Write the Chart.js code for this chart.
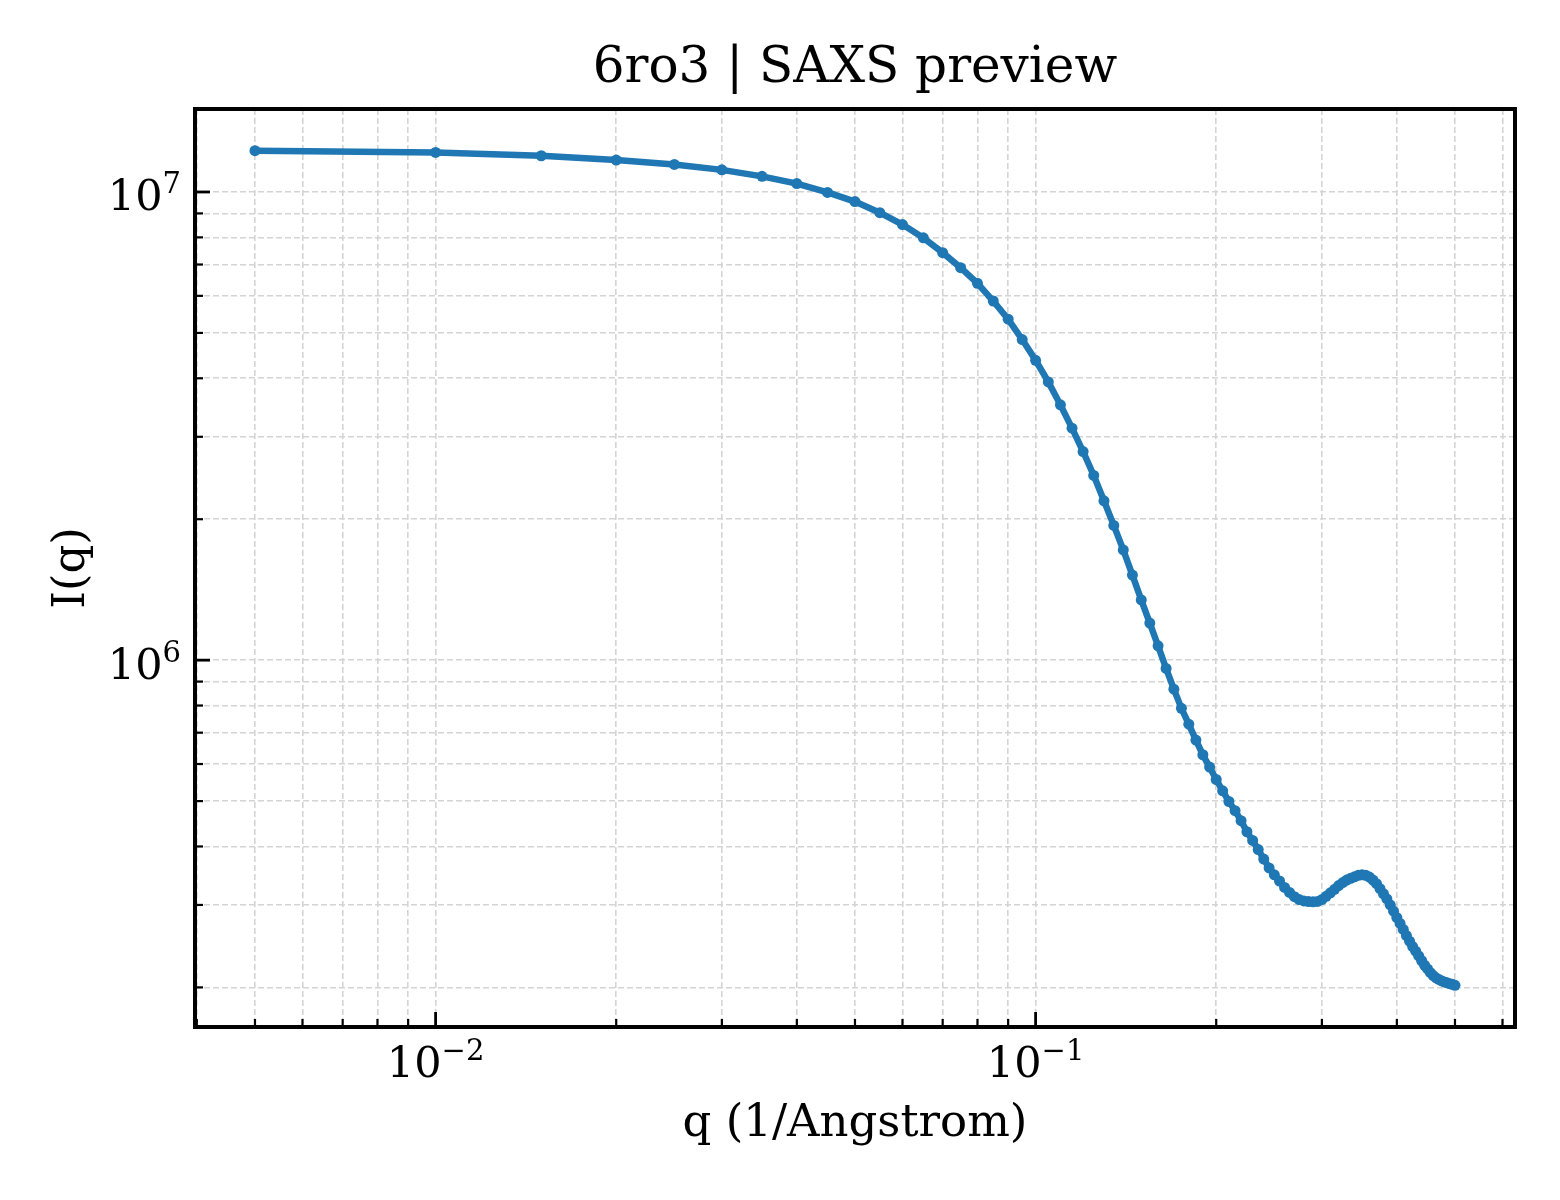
<!DOCTYPE html>
<html>
<head>
<meta charset="utf-8">
<title>6ro3 SAXS preview</title>
<script src="https://cdn.jsdelivr.net/npm/chart.js@4.4.1/dist/chart.umd.min.js"></script>
<style>
  html, body { margin: 0; padding: 0; background: #ffffff; }
</style>
</head>
<body>
<canvas id="saxs" width="1560" height="1200"></canvas>
<script>
// scattering vector q (1/Angstrom)
const qValues = [
  0.005, 0.010, 0.015, 0.020, 0.025, 0.030, 0.035, 0.040, 0.045, 0.050,
  0.055, 0.060, 0.065, 0.070, 0.075, 0.080, 0.085, 0.090, 0.095, 0.100,
  0.105, 0.110, 0.115, 0.120, 0.125, 0.130, 0.135, 0.140, 0.145, 0.150,
  0.155, 0.160, 0.165, 0.170, 0.175, 0.180, 0.185, 0.190, 0.195, 0.200,
  0.205, 0.210, 0.215, 0.220, 0.225, 0.230, 0.235, 0.240, 0.245, 0.250,
  0.255, 0.260, 0.265, 0.270, 0.275, 0.280, 0.285, 0.290, 0.295, 0.300,
  0.305, 0.310, 0.315, 0.320, 0.325, 0.330, 0.335, 0.340, 0.345, 0.350,
  0.355, 0.360, 0.365, 0.370, 0.375, 0.380, 0.385, 0.390, 0.395, 0.400,
  0.405, 0.410, 0.415, 0.420, 0.425, 0.430, 0.435, 0.440, 0.445, 0.450,
  0.455, 0.460, 0.465, 0.470, 0.475, 0.480, 0.485, 0.490, 0.495, 0.500
];

// intensity I(q)
const intensity = [
  1.225e7, 1.215e7, 1.195e7, 1.170e7, 1.145e7, 1.115e7, 1.080e7, 1.042e7, 9.98e6, 9.54e6,
  9.03e6, 8.52e6, 7.98e6, 7.42e6, 6.89e6, 6.38e6, 5.85e6, 5.35e6, 4.84e6, 4.37e6,
  3.93e6, 3.51e6, 3.13e6, 2.79e6, 2.48e6, 2.19e6, 1.94e6, 1.72e6, 1.52e6, 1.345e6,
  1.20e6, 1.073e6, 9.60e5, 8.67e5, 7.89e5, 7.30e5, 6.75e5, 6.28e5, 5.91e5, 5.56e5,
  5.26e5, 4.99e5, 4.77e5, 4.54e5, 4.30e5, 4.12e5, 3.94e5, 3.76e5, 3.60e5, 3.48e5,
  3.375e5, 3.27e5, 3.19e5, 3.125e5, 3.08e5, 3.06e5, 3.05e5, 3.047e5, 3.053e5, 3.08e5,
  3.13e5, 3.185e5, 3.24e5, 3.30e5, 3.35e5, 3.39e5, 3.42e5, 3.445e5, 3.47e5, 3.48e5,
  3.47e5, 3.44e5, 3.39e5, 3.33e5, 3.25e5, 3.17e5, 3.09e5, 3.00e5, 2.91e5, 2.82e5,
  2.74e5, 2.66e5, 2.58e5, 2.51e5, 2.445e5, 2.39e5, 2.335e5, 2.28e5, 2.23e5, 2.19e5,
  2.15e5, 2.12e5, 2.095e5, 2.08e5, 2.065e5, 2.055e5, 2.045e5, 2.037e5, 2.03e5, 2.02e5
];

// tick positions (major ones are the powers of ten)
const xTicks = [
  0.004, 0.005, 0.006, 0.007, 0.008, 0.009,
  0.01, 0.02, 0.03, 0.04, 0.05, 0.06, 0.07, 0.08, 0.09,
  0.1, 0.2, 0.3, 0.4, 0.5, 0.6
];
const yTicks = [
  2e5, 3e5, 4e5, 5e5, 6e5, 7e5, 8e5, 9e5,
  1e6, 2e6, 3e6, 4e6, 5e6, 6e6, 7e6, 8e6, 9e6,
  1e7
];

const xLimits = [0.003972, 0.6295];
const yLimits = [1.646e5, 1.504e7];

const SERIF = "'DejaVu Serif', 'Liberation Serif', serif";
const BLUE = '#1f77b4';

function isPower(v) {
  const e = Math.log10(v);
  return Math.abs(e - Math.round(e)) < 1e-9;
}

function exponentText(v) {
  return String(Math.round(Math.log10(v))).replace('-', '\u2212');
}

// draws "10" with a raised exponent, like matplotlib's mathtext labels
function drawPowerLabel(ctx, v, x, baseline, align) {
  const base = '10';
  const exp = exponentText(v);
  ctx.font = '43px ' + SERIF;
  const wBase = ctx.measureText(base).width;
  ctx.font = '29px ' + SERIF;
  const wExp = ctx.measureText(exp).width;
  const total = wBase + wExp;
  const start = align === 'center' ? x - total / 2 : x - total;
  ctx.textAlign = 'left';
  ctx.textBaseline = 'alphabetic';
  ctx.font = '43px ' + SERIF;
  ctx.fillText(base, start, baseline);
  ctx.font = '29px ' + SERIF;
  ctx.fillText(exp, start + wBase, baseline - 17);
}

// matplotlib style: ticks pointing inward, full frame, power-of-ten labels
const frameAndTicks = {
  id: 'frameAndTicks',
  afterDatasetsDraw(chart) {
    const {ctx, chartArea: a, scales: {x, y}} = chart;
    ctx.save();
    ctx.strokeStyle = '#000';
    ctx.fillStyle = '#000';
    xTicks.forEach(v => {
      const px = x.getPixelForValue(v);
      const major = isPower(v);
      ctx.lineWidth = major ? 2.8 : 2.2;
      ctx.beginPath();
      ctx.moveTo(px, a.bottom);
      ctx.lineTo(px, a.bottom - (major ? 15 : 8));
      ctx.stroke();
      if (major) drawPowerLabel(ctx, v, px, a.bottom + 50, 'center');
    });
    yTicks.forEach(v => {
      const py = y.getPixelForValue(v);
      const major = isPower(v);
      ctx.lineWidth = major ? 2.8 : 2.2;
      ctx.beginPath();
      ctx.moveTo(a.left, py);
      ctx.lineTo(a.left + (major ? 15 : 8), py);
      ctx.stroke();
      if (major) drawPowerLabel(ctx, v, a.left - 14, py + 18.5, 'right');
    });
    ctx.lineWidth = 4;
    ctx.strokeRect(a.left, a.top, a.right - a.left, a.bottom - a.top);
    ctx.restore();
  }
};

const points = qValues.map((q, i) => ({x: q, y: intensity[i]}));

new Chart(document.getElementById('saxs').getContext('2d'), {
  type: 'line',
  data: {
    datasets: [{
      data: points,
      borderColor: BLUE,
      backgroundColor: BLUE,
      borderWidth: 6.5,
      pointRadius: 5.5,
      pointBorderWidth: 0,
      pointBackgroundColor: BLUE,
      tension: 0,
      fill: false
    }]
  },
  options: {
    responsive: false,
    animation: false,
    devicePixelRatio: 1,
    layout: { padding: { left: 0, right: 45, top: 0, bottom: 0 } },
    plugins: {
      legend: { display: false },
      tooltip: { enabled: false },
      title: {
        display: true,
        text: '6ro3 | SAXS preview',
        color: '#000',
        fullSize: false,
        font: { family: SERIF, size: 50, weight: 'normal', lineHeight: 1.2 },
        padding: { top: 39, bottom: 10 }
      }
    },
    scales: {
      x: {
        type: 'logarithmic',
        min: xLimits[0],
        max: xLimits[1],
        afterBuildTicks: scale => { scale.ticks = xTicks.map(v => ({value: v})); },
        afterFit: scale => { scale.height = 173; },
        ticks: { display: false, autoSkip: false },
        grid: {
          color: '#d4d4d4',
          lineWidth: 1.6,
          drawTicks: false
        },
        border: { display: false, dash: [6, 3] },
        title: {
          display: true,
          text: 'q (1/Angstrom)',
          color: '#000',
          font: { family: SERIF, size: 45, lineHeight: 1.2 },
          padding: { top: 0, bottom: 49 }
        }
      },
      y: {
        type: 'logarithmic',
        min: yLimits[0],
        max: yLimits[1],
        afterBuildTicks: scale => { scale.ticks = yTicks.map(v => ({value: v})); },
        afterFit: scale => { scale.width = 195; },
        ticks: { display: false, autoSkip: false },
        grid: {
          color: '#d4d4d4',
          lineWidth: 1.6,
          drawTicks: false
        },
        border: { display: false, dash: [6, 3] },
        title: {
          display: true,
          text: 'I(q)',
          color: '#000',
          font: { family: SERIF, size: 45, lineHeight: 1.2 },
          padding: { top: 45, bottom: 0 }
        }
      }
    }
  },
  plugins: [frameAndTicks]
});
</script>
</body>
</html>
